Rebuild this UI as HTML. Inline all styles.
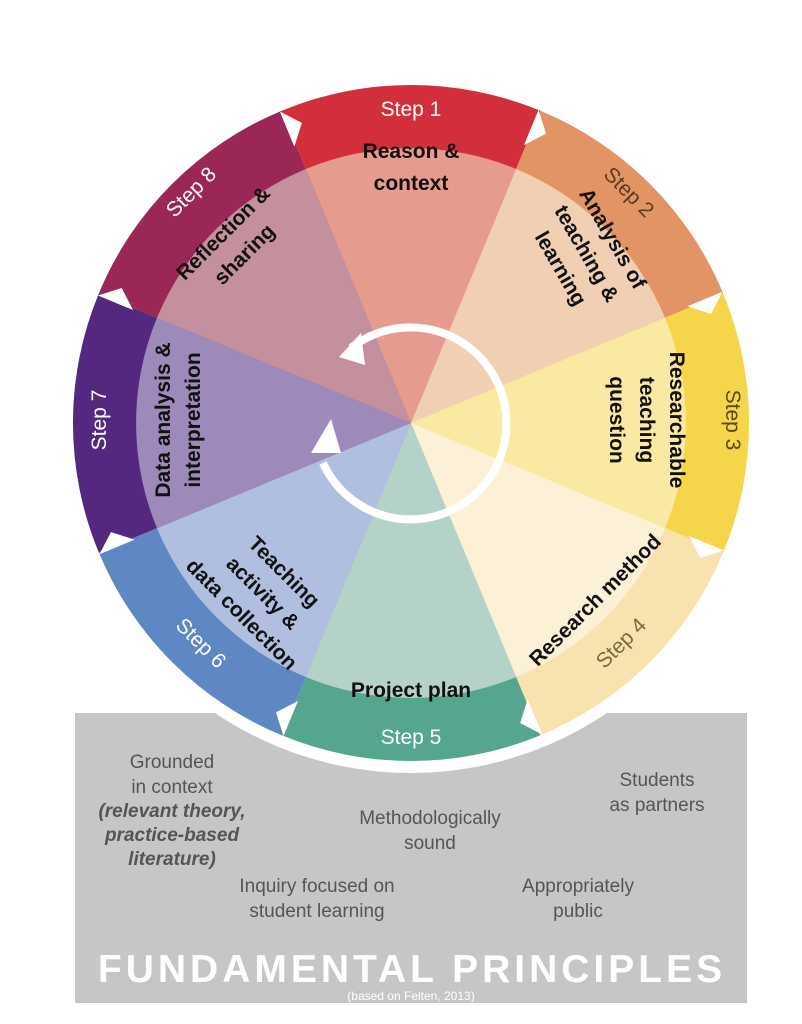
<!DOCTYPE html>
<html><head><meta charset="utf-8"><style>
body{margin:0;background:#fff;}
svg{display:block;font-family:"Liberation Sans",sans-serif;}
</style></head><body>
<svg width="802" height="1024" viewBox="0 0 802 1024">
<rect x="75" y="713" width="672" height="290" fill="#c6c6c6"/>
<circle cx="411" cy="423" r="350" fill="#fff"/>
<g id="w" transform="translate(411,423)">
<path d="M0,0 L-129.3,-312.3 A338,338 0 0 1 129.3,-312.3Z" fill="#d22f3b"/>
<path d="M0,0 L129.3,-312.3 A338,338 0 0 1 312.3,-129.3Z" fill="#e39465"/>
<path d="M0,0 L312.3,-129.3 A338,338 0 0 1 312.3,129.3Z" fill="#f5d54a"/>
<path d="M0,0 L312.3,129.3 A338,338 0 0 1 129.3,312.3Z" fill="#f8e3b0"/>
<path d="M0,0 L129.3,312.3 A338,338 0 0 1 -129.3,312.3Z" fill="#56a58e"/>
<path d="M0,0 L-129.3,312.3 A338,338 0 0 1 -312.3,129.3Z" fill="#5f87c4"/>
<path d="M0,0 L-312.3,129.3 A338,338 0 0 1 -312.3,-129.3Z" fill="#55287f"/>
<path d="M0,0 L-312.3,-129.3 A338,338 0 0 1 -129.3,-312.3Z" fill="#9a2755"/>
<path d="M0,0 L-105.2,-254 A275,275 0 0 1 105.2,-254Z" fill="#e59c8e"/>
<path d="M0,0 L105.2,-254 A275,275 0 0 1 254,-105.2Z" fill="#f1cfb3"/>
<path d="M0,0 L254,-105.2 A275,275 0 0 1 254,105.2Z" fill="#fae9a0"/>
<path d="M0,0 L254,105.2 A275,275 0 0 1 105.2,254Z" fill="#fcf0d6"/>
<path d="M0,0 L105.2,254 A275,275 0 0 1 -105.2,254Z" fill="#b5d2c8"/>
<path d="M0,0 L-105.2,254 A275,275 0 0 1 -254,105.2Z" fill="#b0bfe0"/>
<path d="M0,0 L-254,105.2 A275,275 0 0 1 -254,-105.2Z" fill="#9e89bb"/>
<path d="M0,0 L-254,-105.2 A275,275 0 0 1 -105.2,-254Z" fill="#c4909e"/>
<g fill="#fff">
<polygon points="-2,-338 -2,-300 14,-319" transform="rotate(-22.5)"/>
<polygon points="-2,-338 -2,-300 14,-319" transform="rotate(22.5)"/>
<polygon points="-2,-338 -2,-300 14,-319" transform="rotate(67.5)"/>
<polygon points="-2,-338 -2,-300 14,-319" transform="rotate(112.5)"/>
<polygon points="-2,-338 -2,-300 14,-319" transform="rotate(157.5)"/>
<polygon points="-2,-338 -2,-300 14,-319" transform="rotate(202.5)"/>
<polygon points="-2,-338 -2,-300 14,-319" transform="rotate(247.5)"/>
<polygon points="-2,-338 -2,-300 14,-319" transform="rotate(292.5)"/>
</g>
<path d="M-60,-75 A96,96 0 1 1 -88,40" fill="none" stroke="#fff" stroke-width="8"/>
<polygon points="-72,-66 -50,-90 -46,-58" fill="#fff"/>
<polygon points="-100,30 -80,-4 -70,30" fill="#fff"/>
</g>
<g fill="#fff" font-size="21" text-anchor="middle">
<text x="411" y="116">Step 1</text>
<text x="0" y="0" transform="translate(624,197) rotate(45)" fill="#5a3a20">Step 2</text>
<text x="0" y="0" transform="translate(726,420) rotate(90)" fill="#5a4a10">Step 3</text>
<text x="0" y="0" transform="translate(626,648) rotate(-45)" fill="#7a6a40">Step 4</text>
<text x="411" y="744">Step 5</text>
<text x="0" y="0" transform="translate(196,648) rotate(45)">Step 6</text>
<text x="0" y="0" transform="translate(106,420) rotate(-90)">Step 7</text>
<text x="0" y="0" transform="translate(196,197) rotate(-45)">Step 8</text>
</g>
<g fill="#111" font-size="21" font-weight="bold" text-anchor="middle">
<text x="411" y="158">Reason &amp;</text>
<text x="411" y="190">context</text>
<g transform="translate(572,262) rotate(60)">
<text x="0" y="-40">Analysis of</text><text x="0" y="-10">teaching &amp;</text><text x="0" y="20">learning</text></g>
<g transform="translate(640,420) rotate(90)">
<text x="0" y="-30">Researchable</text><text x="0" y="0">teaching</text><text x="0" y="30">question</text></g>
<text transform="translate(600,605) rotate(-45)" x="0" y="0">Research method</text>
<text x="411" y="697">Project plan</text>
<g transform="translate(258,598) rotate(45)">
<text x="0" y="-30">Teaching</text><text x="0" y="0">activity &amp;</text><text x="0" y="30">data collection</text></g>
<g transform="translate(170,420) rotate(-90)">
<text x="0" y="0">Data analysis &amp;</text><text x="0" y="30">interpretation</text></g>
<g transform="translate(228,238) rotate(-45)">
<text x="0" y="0">Reflection &amp;</text><text x="0" y="30">sharing</text></g>
</g>
<g fill="#555" font-size="19" text-anchor="middle">
<text x="172" y="768">Grounded</text>
<text x="172" y="793">in context</text>
<text x="172" y="817" font-style="italic" font-weight="bold">(relevant theory,</text>
<text x="172" y="841" font-style="italic" font-weight="bold">practice-based</text>
<text x="172" y="865" font-style="italic" font-weight="bold">literature)</text>
<text x="430" y="824">Methodologically</text>
<text x="430" y="849">sound</text>
<text x="657" y="786">Students</text>
<text x="657" y="811">as partners</text>
<text x="317" y="892">Inquiry focused on</text>
<text x="317" y="917">student learning</text>
<text x="578" y="892">Appropriately</text>
<text x="578" y="917">public</text>
</g>
<text x="412" y="982" fill="#fff" font-size="39" font-weight="bold" text-anchor="middle" letter-spacing="4">FUNDAMENTAL PRINCIPLES</text>
<text x="411" y="1000" fill="#fff" font-size="12" text-anchor="middle">(based on Felten, 2013)</text>
</svg>
</body></html>
